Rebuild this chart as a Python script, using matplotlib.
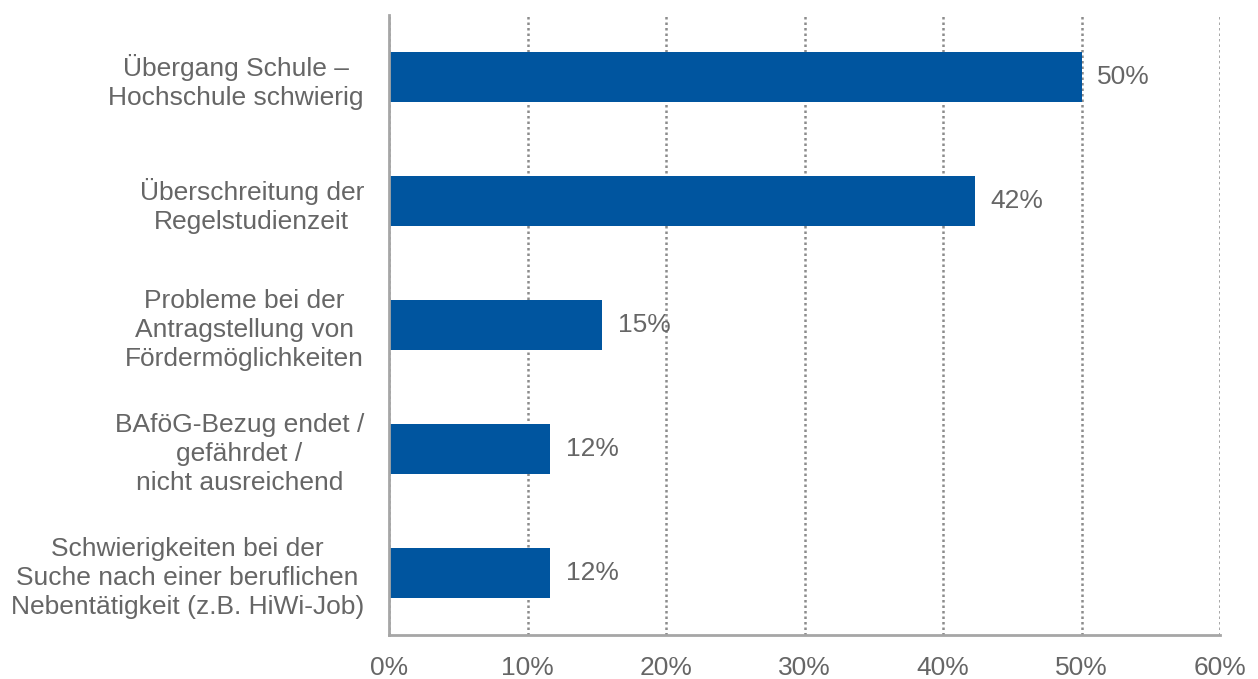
import matplotlib
matplotlib.use('Agg')
import matplotlib.pyplot as plt
from matplotlib.ticker import FuncFormatter, MultipleLocator

categories = [
    'Übergang Schule –\nHochschule schwierig',
    'Überschreitung der\nRegelstudienzeit',
    'Probleme bei der\nAntragstellung von\nFördermöglichkeiten',
    'BAföG-Bezug endet /\ngefährdet /\nnicht ausreichend',
    'Schwierigkeiten bei der\nSuche nach einer beruflichen\nNebentätigkeit (z.B. HiWi-Job)',
]
values = [50.0, 42.3, 15.4, 11.6, 11.6]
value_labels = ['50%', '42%', '15%', '12%', '12%']

BAR_COLOR = '#00559F'
TEXT_COLOR = '#666666'
GRID_COLOR = '#8C8C8C'
FS = 19

plt.rcParams['font.family'] = ['Liberation Sans', 'DejaVu Sans']

fig = plt.figure(figsize=(12.58, 6.79), dpi=100)
ax = fig.add_axes([389 / 1258, 1 - 635 / 679, (1220 - 389) / 1258, 620 / 679])

ypos = list(range(len(categories)))
ax.barh(ypos, values, height=0.4, color=BAR_COLOR, zorder=3)

for y, v, lab in zip(ypos, values, value_labels):
    ax.text(v + 1.15, y, lab, va='center', ha='left', fontsize=FS, color=TEXT_COLOR)

ax.set_xlim(0, 60)
ax.set_ylim(len(categories) - 0.5, -0.5)
ax.set_yticks(ypos)
ax.set_yticklabels(categories, fontsize=FS, color=TEXT_COLOR, ha='right',
                   multialignment='center', linespacing=1.28)
ax.tick_params(axis='y', length=0, pad=18)
ax.xaxis.set_major_locator(MultipleLocator(10))
ax.xaxis.set_major_formatter(FuncFormatter(lambda x, _: f'{x:.0f}%'))
ax.tick_params(axis='x', length=0, pad=15, labelsize=FS, labelcolor=TEXT_COLOR)

ax.grid(axis='x', color=GRID_COLOR, linestyle=(0, (1, 1.2)), linewidth=1.8, zorder=0)
for s in ['top', 'right']:
    ax.spines[s].set_visible(False)
# spines wide enough to hide the dotted 0% gridline underneath
for s in ['left', 'bottom']:
    ax.spines[s].set_color('#A6A6A6')
    ax.spines[s].set_linewidth(2.0)
    ax.spines[s].set_zorder(4)

fig.savefig('out.png', dpi=100)
